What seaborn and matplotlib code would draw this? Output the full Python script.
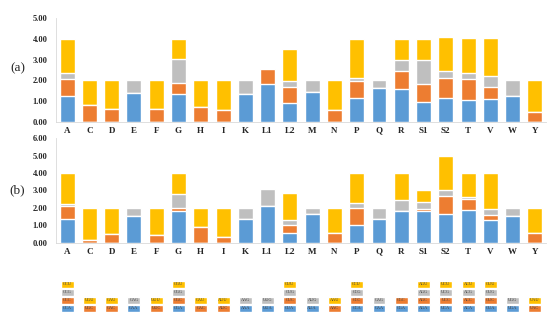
import matplotlib
matplotlib.use("Agg")
import matplotlib.pyplot as plt
import seaborn as sns
import numpy as np

cats = ["A", "C", "D", "E", "F", "G", "H", "I", "K", "L1", "L2", "M", "N",
        "P", "Q", "R", "S1", "S2", "T", "V", "W", "Y"]

# panel (a)
a_blue = [1.24, 0, 0, 1.39, 0, 1.34, 0, 0, 1.34, 1.85, 0.89, 1.44, 0, 1.16, 1.63, 1.56, 0.97, 1.16, 1.06, 1.10, 1.26, 0]
a_orange = [0.84, 0.79, 0.61, 0, 0.60, 0.53, 0.71, 0.56, 0, 0.70, 0.77, 0, 0.55, 0.81, 0, 0.91, 0.85, 0.94, 0.99, 0.56, 0, 0.47]
a_grey = [0.26, 0, 0, 0.61, 0, 1.16, 0, 0, 0.66, 0, 0.31, 0.56, 0, 0.16, 0.37, 0.51, 1.16, 0.37, 0.29, 0.53, 0.74, 0]
a_yellow = [1.66, 1.21, 1.39, 0, 1.40, 0.97, 1.29, 1.44, 0, 0, 1.53, 0, 1.45, 1.87, 0, 1.02, 1.00, 1.64, 1.69, 1.84, 0, 1.53]

# panel (b)
b_blue = [1.34, 0, 0, 1.51, 0, 1.82, 0, 0, 1.36, 2.11, 0.56, 1.63, 0, 1.02, 1.38, 1.82, 1.82, 1.67, 1.88, 1.32, 1.53, 0]
b_orange = [0.79, 0.17, 0.50, 0, 0.44, 0.19, 0.88, 0.34, 0, 0, 0.44, 0, 0.56, 0.97, 0, 0, 0.11, 1.01, 0.61, 0.29, 0, 0.59]
b_grey = [0.09, 0, 0, 0.49, 0, 0.81, 0, 0, 0.64, 0.97, 0.30, 0.37, 0, 0.31, 0.62, 0.63, 0.43, 0.35, 0.15, 0.31, 0.47, 0]
b_yellow = [1.78, 1.83, 1.50, 0, 1.56, 1.18, 1.12, 1.66, 0, 0, 1.57, 0, 1.44, 1.70, 0, 1.55, 0.64, 1.97, 1.36, 2.08, 0, 1.41]

# codon boxes under each amino acid, bottom to top
codons = [["GCA", "GCC", "GCG", "GCU"], ["UGC", "UGU"], ["GAC", "GAU"], ["GAA", "GAG"],
          ["UUC", "UUU"], ["GGA", "GGC", "GGG", "GGU"], ["CAC", "CAU"], ["AUC", "AUU"],
          ["AAA", "AAG"], ["UUA", "UUG"], ["CUA", "CUC", "CUG", "CUU"], ["AUA", "AUG"],
          ["AAC", "AAU"], ["CCA", "CCC", "CCG", "CCU"], ["CAA", "CAG"], ["CGA", "CGC"],
          ["AGA", "AGC", "AGG", "AGU"], ["UCA", "UCC", "UCG", "UCU"], ["ACA", "ACC", "ACG", "ACU"],
          ["GUA", "GUC", "GUG", "GUU"], ["UGA", "UGG"], ["UAC", "UAU"]]

BLUE, ORANGE, GREY, YELLOW = "#5B9BD5", "#ED7D31", "#BFBFBF", "#FFC000"
last_col = {"A": BLUE, "C": ORANGE, "G": GREY, "U": YELLOW}

sns.set_style("white")
plt.rcParams["font.family"] = ["Liberation Serif", "DejaVu Serif"]

fig = plt.figure(figsize=(5.5, 3.29), dpi=100)
left, width = 0.1018, 0.891
ax1 = fig.add_axes([left, 0.630, width, 0.314])
ax2 = fig.add_axes([left, 0.262, width, 0.318])
ax3 = fig.add_axes([left, 0.0508, width, 0.0973])


def stacked(ax, parts, ymax):
    cum = np.cumsum(np.array(parts), axis=0)
    cols = [BLUE, ORANGE, GREY, YELLOW]
    # draw tallest first so lower segments sit on top
    for k in range(3, -1, -1):
        sns.barplot(x=cats, y=cum[k], color=cols[k], width=0.67, saturation=1,
                    errorbar=None, ax=ax)
    ax.set_xlim(-0.5, len(cats) - 0.5)
    ax.set_ylim(0, ymax)
    ax.set_yticks(np.arange(0, ymax + 0.01, 1))
    ax.set_yticklabels([f"{v:.2f}" for v in np.arange(0, ymax + 0.01, 1)])
    ax.set_xlabel("")
    ax.set_ylabel("")
    for s in ["top", "right"]:
        ax.spines[s].set_visible(False)
    ax.spines["left"].set_color("#D9D9D9")
    ax.spines["bottom"].set_color("#D9D9D9")
    ax.spines["left"].set_linewidth(0.6)
    ax.spines["bottom"].set_linewidth(0.6)
    ax.tick_params(length=0, labelsize=6, pad=6)
    ax.tick_params(axis="x", labelsize=6.5, pad=3.5)
    for t in ax.get_xticklabels() + ax.get_yticklabels():
        t.set_fontweight("bold")


stacked(ax1, [a_blue, a_orange, a_grey, a_yellow], 5)
stacked(ax2, [b_blue, b_orange, b_grey, b_yellow], 6)

fig.text(0.032, 1 - 68 / 329, "(a)", fontsize=9.5, ha="center", va="center")
fig.text(0.032, 1 - 190 / 329, "(b)", fontsize=9.5, ha="center", va="center")

# codon table
x = np.arange(len(cats))
for lvl in range(4):
    h = [0.9 if len(c) > lvl else 0 for c in codons]
    colors = [last_col[c[lvl][-1]] if len(c) > lvl else "white" for c in codons]
    ax3.bar(x, h, bottom=lvl + 0.05, width=0.58, color=colors)
    for i, c in enumerate(codons):
        if len(c) > lvl:
            ax3.text(i, lvl + 0.5, c[lvl], ha="center", va="center", fontsize=3.2,
                     color="#404040")
ax3.set_xlim(-0.5, len(cats) - 0.5)
ax3.set_ylim(0, 4)
ax3.axis("off")

fig.savefig("out.png", dpi=100)
